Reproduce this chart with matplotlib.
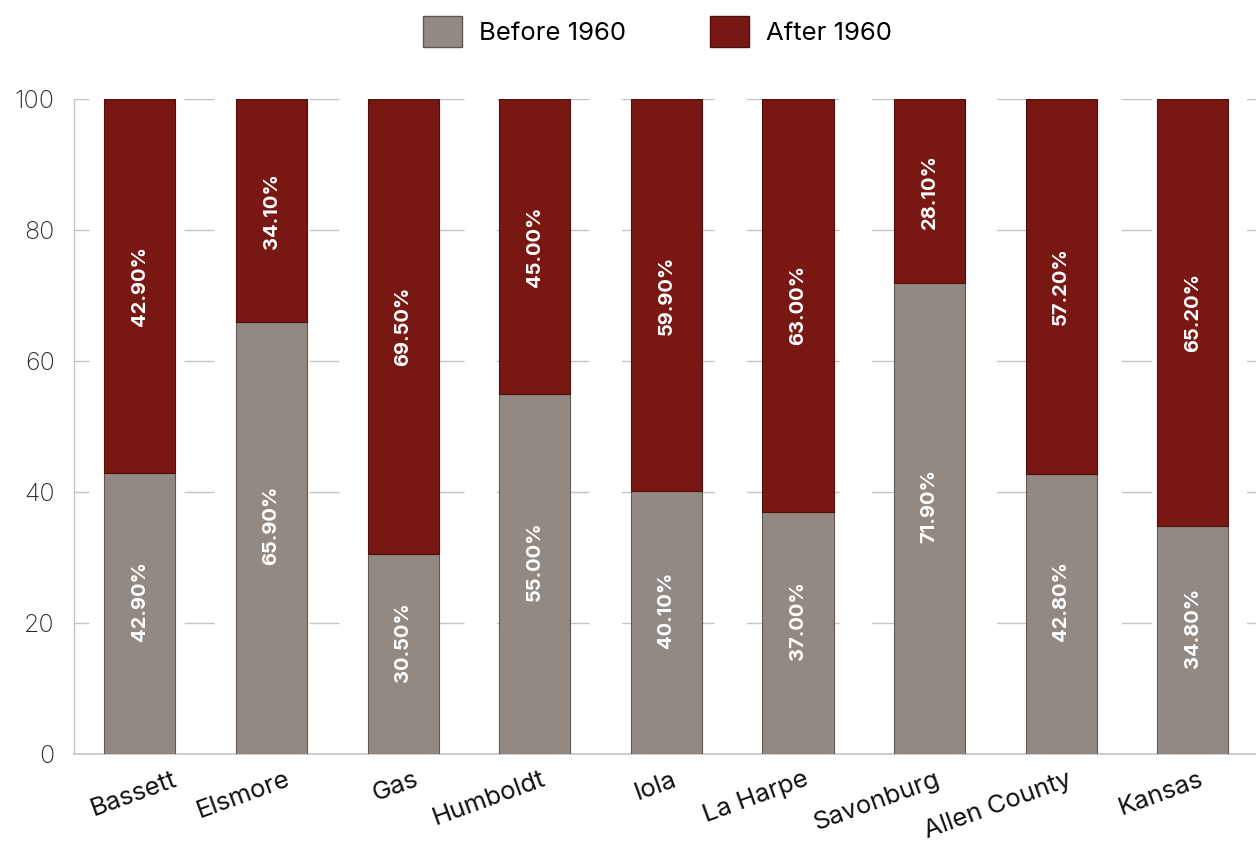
import matplotlib
matplotlib.use("Agg")
import matplotlib.pyplot as plt
import matplotlib.transforms as mtransforms
from matplotlib.patches import Patch
import numpy as np

plt.rcParams['font.family'] = ['Inter', 'DejaVu Sans']

places = ["Bassett", "Elsmore", "Gas", "Humboldt", "Iola", "La Harpe",
          "Savonburg", "Allen County", "Kansas"]
before_1960 = [42.9, 65.9, 30.5, 55.0, 40.1, 37.0, 71.9, 42.8, 34.8]
after_1960 = [42.9, 34.1, 69.5, 45.0, 59.9, 63.0, 28.1, 57.2, 65.2]
y_ticks = [0, 20, 40, 60, 80, 100]

c_before = "#928983"
c_before_edge = "#5f5854"
c_after = "#791713"
c_after_edge = "#4f0f0d"
c_grid = "#c4c4c4"

DPI = 100
fig = plt.figure(figsize=(12.56, 8.44), dpi=DPI)
ax = fig.add_axes([0.059, 0.1066, 0.941, 0.7761])

x = np.arange(len(places))
w = 0.54
before = np.array(before_1960)
# each column is a 100% share: the upper segment fills the remainder
remainder = 100 - before

ax.bar(x, before, width=w, color=c_before, edgecolor=c_before_edge,
       linewidth=0.8, zorder=3)
ax.bar(x, remainder, bottom=before, width=w, color=c_after,
       edgecolor=c_after_edge, linewidth=0.8, zorder=3)

lift = mtransforms.offset_copy(ax.transData, fig=fig, x=0, y=9, units="points")
for xi, b, a_lab, r in zip(x, before, after_1960, remainder):
    ax.text(xi, b / 2, f"{b:.2f}%", rotation=90, ha="center", va="center",
            color="white", fontsize=14.5, fontweight="bold", zorder=4,
            transform=lift)
    ax.text(xi, b + r / 2, f"{a_lab:.2f}%", rotation=90, ha="center",
            va="center", color="white", fontsize=14.5, fontweight="bold",
            zorder=4)

ax.set_xlim(-0.5, 8.48)
ax.set_ylim(0, 100)
ax.set_yticks(y_ticks)
ax.set_yticklabels([str(t) for t in y_ticks], fontsize=18, color="#2a2a2a",
                   fontweight="light")

# dashed horizontal guides: 30 px dash, 32.5 px gap
px = 72.0 / DPI
ax.yaxis.grid(True, color=c_grid, linewidth=1,
              linestyle=(15 * px, (30 * px, 32.5 * px)))
ax.set_axisbelow(True)
ax.tick_params(axis="y", length=0, pad=14)
ax.tick_params(axis="x", length=0, pad=0)

ax.set_xticks(x)
ax.set_xticklabels([])
label_nudge_px = {"Bassett": 26, "Elsmore": 8, "Gas": 4}
for xi, name in zip(x, places):
    tr = mtransforms.offset_copy(ax.get_xaxis_transform(), fig=fig,
                                 x=(6 + label_nudge_px.get(name, 0)) * px,
                                 y=-14 * px, units="points")
    ax.text(xi, 0, name, rotation=20, rotation_mode="anchor", ha="right",
            va="top", fontsize=18.5, color="#111111", transform=tr)

for s in ["top", "right"]:
    ax.spines[s].set_visible(False)
ax.spines["left"].set_color(c_grid)
ax.spines["bottom"].set_color(c_grid)
ax.spines["left"].set_linewidth(1)
ax.spines["bottom"].set_linewidth(1.2)

handles = [Patch(facecolor=c_before, edgecolor=c_before_edge, label="Before 1960"),
           Patch(facecolor=c_after, edgecolor=c_after_edge, label="After 1960")]
fig.legend(handles=handles, loc="center", bbox_to_anchor=(0.5235, 0.963),
           ncol=2, frameon=False, fontsize=18.5, handlelength=1.5,
           handleheight=1.5, columnspacing=3.3, handletextpad=0.65,
           borderpad=0)

fig.savefig("out.png", dpi=DPI)
